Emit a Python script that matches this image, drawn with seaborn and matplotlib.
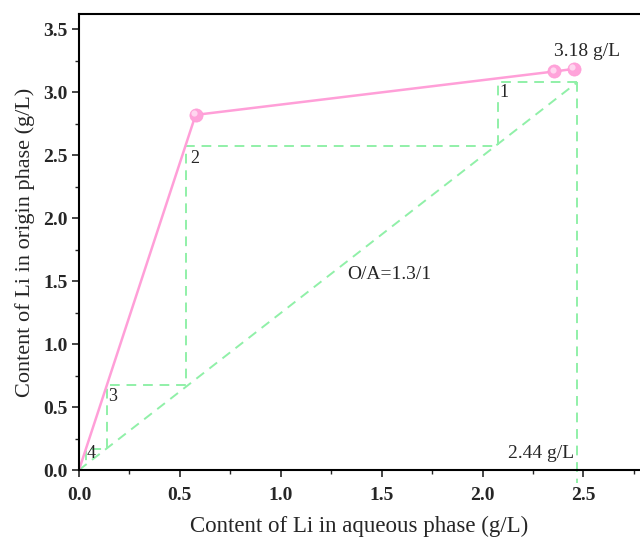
import numpy as np
import pandas as pd
import seaborn as sns
import matplotlib.pyplot as plt
from matplotlib.ticker import MultipleLocator

# equilibrium isotherm (pink)
eq_x = [0.0, 0.578, 2.356, 2.452]
eq_y = [0.0, 2.82, 3.165, 3.185]
marker_x = [0.578, 2.356, 2.452]
marker_y = [2.82, 3.165, 3.185]

# operating line O/A = 1.3/1
op_x = [0.0, 2.47]
op_y = [0.0, 3.08]

# McCabe-Thiele stages
stair_x = [2.47, 2.074, 2.074, 0.53, 0.53, 0.137, 0.137, 0.035, 0.035]
stair_y = [3.08, 3.08, 2.575, 2.575, 0.672, 0.672, 0.167, 0.167, 0.04]

# vertical line at feed concentration
feed_x = [2.47, 2.47]
feed_y = [3.08, -0.1]

stage_labels = ['1', '2', '3', '4']
stage_pos = [(2.085, 3.0), (0.55, 2.47), (0.145, 0.58), (0.04, 0.13)]

sns.set_style('ticks')
plt.rcParams['font.family'] = ['Liberation Serif', 'DejaVu Serif']

fig = plt.figure(figsize=(6.4, 5.44), dpi=100)
ax = fig.add_axes([0.1234, 0.136, 0.8766, 0.838])

green = '#90f0a8'
pink = '#ff9fd8'
dash = (0, (5, 3.5))

sns.lineplot(x=stair_x, y=stair_y, sort=False, estimator=None, ax=ax,
             color=green, lw=1.4, linestyle=dash)
sns.lineplot(x=op_x, y=op_y, sort=False, estimator=None, ax=ax,
             color=green, lw=1.4, linestyle=dash)
ax.plot(feed_x, feed_y, color=green, lw=1.4, linestyle=dash, clip_on=False)

sns.lineplot(x=eq_x, y=eq_y, sort=False, estimator=None, ax=ax,
             color=pink, lw=1.8)
ax.scatter(marker_x, marker_y, s=90, color='#ffa3da', edgecolor='#ff9ad6',
           linewidth=0.5, zorder=5)
ax.scatter([x - 0.007 for x in marker_x], [y + 0.012 for y in marker_y], s=20,
           color='#ffd6ef', linewidth=0, zorder=6)

for lab, (x, y) in zip(stage_labels, stage_pos):
    ax.text(x, y, lab, fontsize=13, ha='left', va='center')

ax.text(1.54, 1.55, 'O/A=1.3/1', fontsize=14, ha='center', va='center')
ax.text(2.52, 3.32, '3.18 g/L', fontsize=14, ha='center', va='center')
ax.text(2.29, 0.13, '2.44 g/L', fontsize=14, ha='center', va='center')

ax.set_xlim(0, 2.78)
ax.set_ylim(0, 3.62)
ax.xaxis.set_major_locator(MultipleLocator(0.5))
ax.xaxis.set_minor_locator(MultipleLocator(0.25))
ax.yaxis.set_major_locator(MultipleLocator(0.5))
ax.yaxis.set_minor_locator(MultipleLocator(0.25))
ax.tick_params(which='major', direction='out', length=5, width=1.2, labelsize=14)
ax.tick_params(axis='x', which='major', pad=7)
ax.tick_params(axis='y', which='major', pad=3)
ax.tick_params(which='minor', direction='out', length=3, width=1.0)
for lab in ax.get_xticklabels() + ax.get_yticklabels():
    lab.set_fontweight('bold')

for s in ['left', 'bottom', 'top']:
    ax.spines[s].set_linewidth(1.5)
    ax.spines[s].set_color('black')
ax.spines['right'].set_visible(False)

ax.set_xlabel('Content of Li in aqueous phase (g/L)', fontsize=16.5, labelpad=9)
ax.set_ylabel('Content of Li in origin phase (g/L)', fontsize=16, labelpad=6)

fig.savefig('out.png', dpi=100)
